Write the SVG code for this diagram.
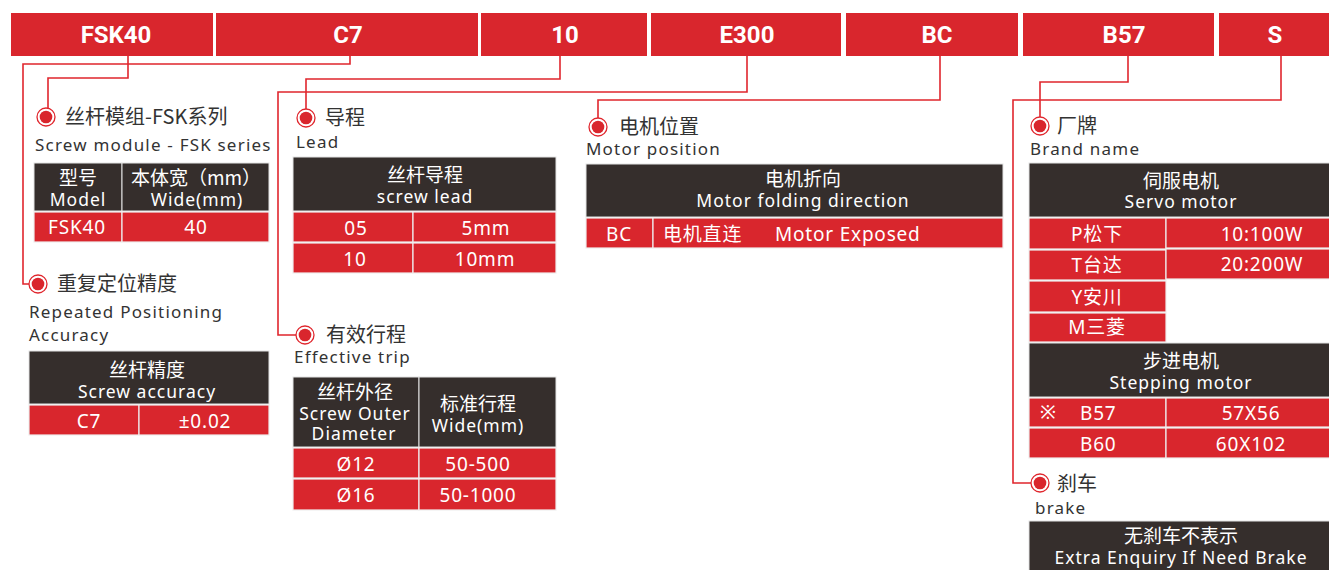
<svg xmlns="http://www.w3.org/2000/svg" width="1329" height="570" viewBox="0 0 1329 570">
<style>
.bar{fill:#d9262d}
.bt{font-family:"Roboto","Liberation Sans",sans-serif;font-weight:bold;font-size:24px;fill:#fff;text-anchor:middle}
.cn{font-family:"Noto Sans CJK SC","Noto Sans",sans-serif;font-size:20px;fill:#333}
.en{font-family:"Noto Sans","Noto Sans CJK SC",sans-serif;font-size:17px;fill:#333;letter-spacing:1.2px}
.hd{fill:#352e2c;stroke:#e4e4e4;stroke-width:1}
.rd{fill:#d9262d;stroke:#eee;stroke-width:1.2}
.wt{font-family:"Noto Sans","Noto Sans CJK SC",sans-serif;font-size:17.5px;fill:#fff;text-anchor:middle;letter-spacing:1px}
.wc{font-family:"Noto Sans CJK SC","Noto Sans",sans-serif;font-size:19px;fill:#fff;text-anchor:middle}
.wr{font-family:"Noto Sans","Noto Sans CJK SC",sans-serif;font-size:19px;fill:#fff;text-anchor:middle;letter-spacing:0.8px}
.wl{font-family:"Noto Sans","Noto Sans CJK SC",sans-serif;font-size:19px;fill:#fff;letter-spacing:0.8px}
.ln{fill:none;stroke:#e0262d;stroke-width:1.6}
.ring{fill:#fff;stroke:#e0262d;stroke-width:1.3}
.dot{fill:#d9262d}
</style>
<defs>
<g id="mk"><circle class="ring" r="9"/><circle class="dot" r="6.3"/></g>
</defs>

<g id="codebar">
<rect class="bar" x="11" y="13" width="202" height="43"/>
<rect class="bar" x="216" y="13" width="262" height="43"/>
<rect class="bar" x="481" y="13" width="166" height="43"/>
<rect class="bar" x="651" y="13" width="190" height="43"/>
<rect class="bar" x="846" y="13" width="172" height="43"/>
<rect class="bar" x="1023" y="13" width="191" height="43"/>
<rect class="bar" x="1219" y="13" width="110" height="43"/>
<text class="bt" x="116" y="43">FSK40</text>
<text class="bt" x="348" y="43">C7</text>
<text class="bt" x="565" y="43">10</text>
<text class="bt" x="747" y="43">E300</text>
<text class="bt" x="937" y="43">BC</text>
<text class="bt" x="1124" y="43">B57</text>
<text class="bt" x="1275" y="43">S</text>
</g>

<g id="connectors">
<path class="ln" d="M128,56 V78 H48 V108"/>
<path class="ln" d="M350,56 V64 H23 V284 H29"/>
<path class="ln" d="M560,56 V79 H306 V109"/>
<path class="ln" d="M747,56 V92 H278 V335 H296"/>
<path class="ln" d="M940,56 V100 H598 V118"/>
<path class="ln" d="M1281,56 V100 H1013 V483 H1031"/>
<path class="ln" d="M1128,56 V82 H1040 V117"/>
</g>

<g id="model">
<use href="#mk" x="46" y="117"/>
<text class="cn" x="65" y="124">丝杆模组-FSK系列</text>
<text class="en" x="35" y="151">Screw module - FSK series</text>
<rect class="hd" x="34" y="163" width="88" height="48"/>
<rect class="hd" x="122" y="163" width="147" height="48"/>
<rect class="rd" x="34" y="212" width="88" height="30"/>
<rect class="rd" x="122" y="212" width="147" height="30"/>
<text class="wc" x="78" y="185">型号</text>
<text class="wt" x="78" y="206">Model</text>
<text class="wc" x="196" y="185">本体宽（mm）</text>
<text class="wt" x="197" y="206">Wide(mm)</text>
<text class="wr" x="77" y="234">FSK40</text>
<text class="wr" x="196" y="234">40</text>
</g>

<g id="accuracy">
<use href="#mk" x="38" y="284"/>
<text class="cn" x="57" y="291">重复定位精度</text>
<text class="en" x="29" y="318">Repeated Positioning</text>
<text class="en" x="29" y="341">Accuracy</text>
<rect class="hd" x="29" y="351" width="240" height="53"/>
<rect class="rd" x="29" y="405" width="110" height="30"/>
<rect class="rd" x="139" y="405" width="130" height="30"/>
<text class="wc" x="147" y="377">丝杆精度</text>
<text class="wt" x="147" y="398">Screw accuracy</text>
<text class="wr" x="89" y="428">C7</text>
<text class="wr" x="205" y="428">±0.02</text>
</g>

<g id="lead">
<use href="#mk" x="306" y="118"/>
<text class="cn" x="325" y="125">导程</text>
<text class="en" x="296" y="148">Lead</text>
<rect class="hd" x="293" y="157" width="263" height="54"/>
<rect class="rd" x="293" y="212" width="120" height="30"/>
<rect class="rd" x="413" y="212" width="143" height="30"/>
<rect class="rd" x="293" y="243" width="120" height="30"/>
<rect class="rd" x="413" y="243" width="143" height="30"/>
<text class="wc" x="425" y="182">丝杆导程</text>
<text class="wt" x="425" y="203">screw lead</text>
<text class="wr" x="356" y="235">05</text>
<text class="wr" x="486" y="235">5mm</text>
<text class="wr" x="355" y="266">10</text>
<text class="wr" x="485" y="266">10mm</text>
</g>

<g id="trip">
<use href="#mk" x="305" y="335"/>
<text class="cn" x="326" y="342">有效行程</text>
<text class="en" x="294" y="363">Effective trip</text>
<rect class="hd" x="293" y="377" width="126" height="70"/>
<rect class="hd" x="419" y="377" width="137" height="70"/>
<rect class="rd" x="293" y="448" width="126" height="30"/>
<rect class="rd" x="419" y="448" width="137" height="30"/>
<rect class="rd" x="293" y="479" width="126" height="31"/>
<rect class="rd" x="419" y="479" width="137" height="31"/>
<text class="wc" x="355" y="399">丝杆外径</text>
<text class="wt" x="355" y="420">Screw Outer</text>
<text class="wt" x="354" y="440">Diameter</text>
<text class="wc" x="478" y="411">标准行程</text>
<text class="wt" x="478" y="432">Wide(mm)</text>
<text class="wr" x="356" y="471">Ø12</text>
<text class="wr" x="478" y="471">50-500</text>
<text class="wr" x="356" y="502">Ø16</text>
<text class="wr" x="478" y="502">50-1000</text>
</g>

<g id="motorpos">
<use href="#mk" x="598" y="127"/>
<text class="cn" x="619" y="134">电机位置</text>
<text class="en" x="586" y="155">Motor position</text>
<rect class="hd" x="586" y="164" width="417" height="53"/>
<rect class="rd" x="586" y="218" width="67" height="30"/>
<rect class="rd" x="653" y="218" width="350" height="30"/>
<text class="wc" x="803" y="186">电机折向</text>
<text class="wt" x="803" y="207">Motor folding direction</text>
<text class="wr" x="619" y="241">BC</text>
<text class="wl" x="663" y="241">电机直连</text>
<text class="wl" x="775" y="241">Motor Exposed</text>
</g>

<g id="brand">
<use href="#mk" x="1040" y="126"/>
<text class="cn" x="1057" y="133">厂牌</text>
<text class="en" x="1030" y="155">Brand name</text>
<rect class="hd" x="1029" y="163" width="301" height="54"/>
<rect class="rd" x="1029" y="218" width="137" height="31"/>
<rect class="rd" x="1166" y="218" width="164" height="30"/>
<rect class="rd" x="1029" y="250" width="137" height="30"/>
<rect class="rd" x="1166" y="249" width="164" height="30"/>
<rect class="rd" x="1029" y="281" width="137" height="31"/>
<rect class="rd" x="1029" y="313" width="137" height="29"/>
<text class="wc" x="1181" y="188">伺服电机</text>
<text class="wt" x="1181" y="208">Servo motor</text>
<text class="wr" x="1097" y="241">P松下</text>
<text class="wr" x="1262" y="241">10:100W</text>
<text class="wr" x="1097" y="272">T台达</text>
<text class="wr" x="1262" y="271">20:200W</text>
<text class="wr" x="1097" y="304">Y安川</text>
<text class="wr" x="1097" y="334">M三菱</text>
<rect class="hd" x="1029" y="343" width="301" height="54"/>
<rect class="rd" x="1029" y="398" width="137" height="29"/>
<rect class="rd" x="1166" y="398" width="164" height="29"/>
<rect class="rd" x="1029" y="428" width="137" height="30"/>
<rect class="rd" x="1166" y="428" width="164" height="30"/>
<text class="wc" x="1181" y="368">步进电机</text>
<text class="wt" x="1181" y="389">Stepping motor</text>
<text class="wl" x="1040" y="419">※</text>
<text class="wl" x="1080" y="420">B57</text>
<text class="wr" x="1251" y="420">57X56</text>
<text class="wl" x="1080" y="451">B60</text>
<text class="wr" x="1251" y="451">60X102</text>
</g>

<g id="brake">
<use href="#mk" x="1040" y="483"/>
<text class="cn" x="1057" y="491">刹车</text>
<text class="en" x="1035" y="514">brake</text>
<rect class="hd" x="1029" y="521" width="301" height="55"/>
<text class="wc" x="1181" y="543">无刹车不表示</text>
<text class="wt" x="1181" y="564">Extra Enquiry If Need Brake</text>
</g>
</svg>
